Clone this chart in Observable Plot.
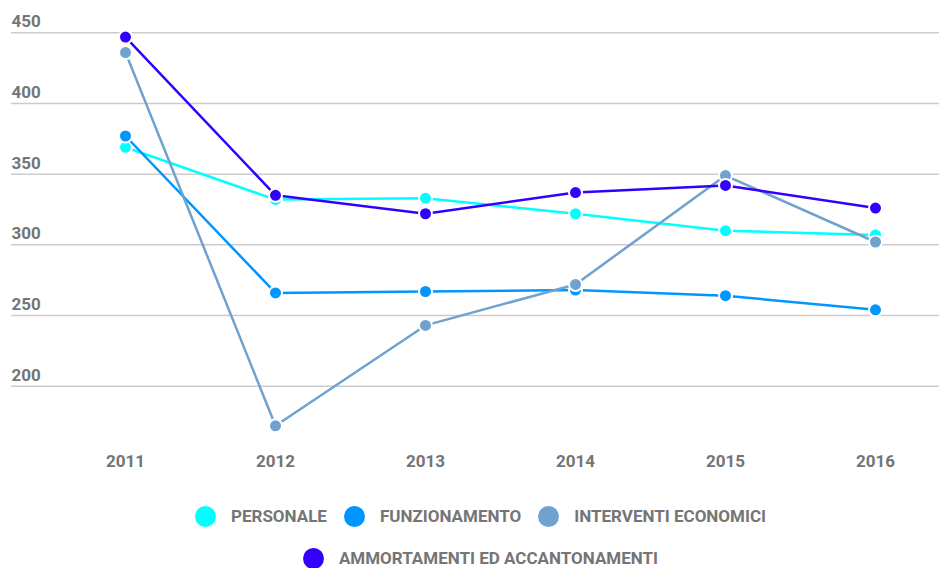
<!DOCTYPE html>
<html>
<head>
<meta charset="utf-8">
<script src="https://cdn.jsdelivr.net/npm/d3@7"></script>
<script src="https://cdn.jsdelivr.net/npm/@observablehq/plot@0.6"></script>
<style>
  body { margin: 0; background: #fff; font-family: Roboto, "Open Sans", sans-serif; }
  #chart svg { display: block; }
  .legend { width: 939px; display: flex; flex-wrap: wrap; justify-content: center; box-sizing: border-box; padding: 16px 100px 0 122px; row-gap: 22px; column-gap: 17px; }
  .item { display: flex; align-items: center; height: 20px; font: bold 17px Roboto, sans-serif; color: #757575; }
  .sw { width: 21px; height: 21px; border-radius: 50%; margin-right: 15px; }
</style>
</head>
<body>
<div id="chart"></div>
<div class="legend" id="legend"></div>
<script>
const years = [2011, 2012, 2013, 2014, 2015, 2016];
const seriesNames = ["PERSONALE", "FUNZIONAMENTO", "INTERVENTI ECONOMICI", "AMMORTAMENTI ED ACCANTONAMENTI"];
const personale = [369, 332, 333, 322, 310, 307];
const funzionamento = [377, 266, 267, 268, 264, 254];
const interventiEconomici = [436, 172, 243, 272, 349, 302];
const ammortamenti = [447, 335, 322, 337, 342, 326];
const colors = ["#00ffff", "#0096ff", "#6fa2cf", "#3300ff"];
const yTicks = [200, 250, 300, 350, 400, 450];

const seriesValues = [personale, funzionamento, interventiEconomici, ammortamenti];
const data = [];
seriesNames.forEach((s, i) => years.forEach((y, j) => data.push({series: s, year: y, value: seriesValues[i][j]})));

const marks = [
  Plot.ruleY(yTicks, {stroke: "#cccccc", strokeWidth: 1.5}),
  Plot.text(yTicks, {y: d => d, frameAnchor: "left", textAnchor: "start", dy: -11, text: d => String(d), fill: "#757575", fontWeight: "bold", fontSize: 17}),
  Plot.text(years, {x: d => d, frameAnchor: "top", dy: 454, text: d => String(d), fill: "#757575", fontWeight: "bold", fontSize: 17})
];
seriesNames.forEach((s, i) => {
  const rows = data.filter(d => d.series === s);
  marks.push(Plot.line(rows, {x: "year", y: "value", stroke: colors[i], strokeWidth: 2.5}));
  marks.push(Plot.dot(rows, {x: "year", y: "value", r: 6.5, fill: colors[i], stroke: "#fff", strokeWidth: 2}));
});

const chart = Plot.plot({
  width: 939,
  height: 490,
  marginLeft: 11, marginRight: 0, marginTop: 0, marginBottom: 0,
  x: {type: "point", domain: years, range: [125, 875], padding: 0, axis: null},
  y: {type: "linear", domain: [200, 450], range: [385.7, 32.3], axis: null},
  style: {fontFamily: "Roboto, sans-serif", background: "#fff"},
  marks
});
document.getElementById("chart").appendChild(chart);

const legend = document.getElementById("legend");
seriesNames.forEach((s, i) => {
  const it = document.createElement("div");
  it.className = "item";
  it.innerHTML = `<span class="sw" style="background:${colors[i]}"></span><span>${s}</span>`;
  legend.appendChild(it);
});
</script>
</body>
</html>
